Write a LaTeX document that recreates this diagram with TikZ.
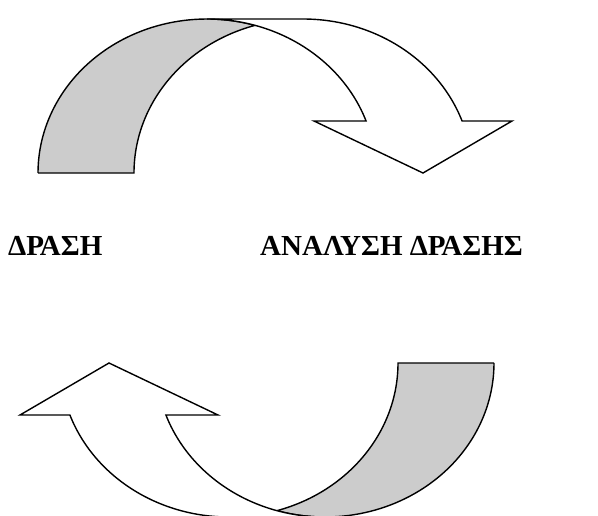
\documentclass[tikz,border=0pt]{standalone}
\usepackage{fontspec}
\setmainfont{Liberation Serif}
\definecolor{bandgray}{RGB}{204,204,204}
\begin{document}
\begin{tikzpicture}[x=1pt,y=-1pt,
  band/.style={draw=black,line width=1.4pt,line join=miter,fill=white},
  backband/.style={draw=black,line width=1.4pt,line join=miter,fill=bandgray},
  lbl/.style={anchor=base west,inner sep=0pt,font=\fontsize{29}{33}\selectfont\bfseries}]
\useasboundingbox (0,0) rectangle (598,515);
% one curved arrow, drawn in a scope so it can be reused
\newcommand{\curvedarrowshape}{%
  \filldraw[backband] (38,173) -- (134,173)
    arc[start angle=180, end angle=253.5, x radius=169, y radius=154]
    arc[start angle=-73.5, end angle=-180, x radius=169, y radius=154] -- cycle;
  \filldraw[band] (423,173) -- (314,121) -- (366.08,121)
    arc[start angle=-19.73, end angle=-90, x radius=169, y radius=154]
    -- (303,19)
    arc[start angle=-90, end angle=-19.73, x radius=169, y radius=154]
    -- (512,121) -- cycle;
}
\begin{scope}
  \curvedarrowshape
\end{scope}
\begin{scope}[rotate around={180:(266,268)}]
  \curvedarrowshape
\end{scope}
\node[lbl] (act) at (8,255) {ΔΡΑΣΗ};
\node[lbl] (anal) at (260,255) {ΑΝΑΛΥΣΗ ΔΡΑΣΗΣ};
\end{tikzpicture}
\end{document}
